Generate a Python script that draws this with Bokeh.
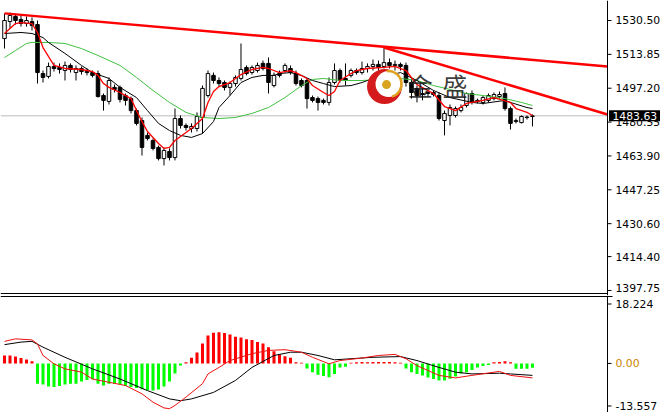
from bokeh.plotting import figure
from bokeh.layouts import column
from bokeh.models import Range1d, Span, ColumnDataSource
from bokeh.core.properties import value
from bokeh.embed import file_html
from bokeh.resources import INLINE

# ---------------- data ----------------
opens = [1521.6, 1530.0, 1532.5, 1531.0, 1529.0, 1530.0, 1528.5, 1504.4, 1503.0, 1507.9,
         1507.4, 1505.9, 1508.4, 1504.9, 1506.9, 1505.4, 1504.9, 1504.4, 1493.6, 1490.7,
         1497.6, 1497.6, 1493.6, 1492.1, 1486.2, 1481.3, 1474.0, 1471.5, 1468.1, 1462.6,
         1466.1, 1463.1, 1482.3, 1478.9, 1477.4, 1477.4, 1482.8, 1493.6, 1503.5, 1501.0,
         1500.0, 1497.6, 1499.5, 1502.0, 1507.4, 1504.9, 1505.9, 1509.4, 1509.4, 1498.5,
         1504.4, 1505.9, 1506.9, 1504.4, 1501.0, 1501.0, 1492.6, 1492.1, 1491.2, 1490.2,
         1500.0, 1505.9, 1502.0, 1503.5, 1505.9, 1504.9, 1506.9, 1507.9, 1508.9, 1507.9,
         1509.8, 1508.4, 1508.9, 1508.4, 1500.0, 1497.1, 1494.6, 1494.6, 1495.1, 1493.6,
         1481.3, 1483.8, 1483.8, 1486.2, 1488.7, 1494.6, 1491.2, 1490.2, 1491.2, 1492.1,
         1493.1, 1494.6, 1487.2, 1480.8, 1480.3, 1482.8, 1483.3]
closes = [1530.5, 1533.0, 1530.5, 1529.0, 1530.5, 1528.0, 1504.9, 1502.5, 1507.9, 1506.9,
          1506.4, 1508.4, 1506.4, 1506.9, 1505.4, 1504.9, 1503.5, 1493.1, 1491.2, 1501.0,
          1496.6, 1491.7, 1491.2, 1486.2, 1479.9, 1468.1, 1472.5, 1467.6, 1462.6, 1466.6,
          1463.1, 1482.3, 1478.9, 1477.9, 1478.4, 1483.3, 1497.1, 1504.4, 1501.0, 1499.5,
          1497.6, 1499.5, 1502.5, 1506.4, 1504.4, 1507.4, 1508.4, 1506.9, 1500.0, 1503.5,
          1503.5, 1508.4, 1504.9, 1499.5, 1498.5, 1492.1, 1491.2, 1490.2, 1490.2, 1500.0,
          1505.9, 1501.0, 1501.0, 1505.9, 1504.9, 1506.9, 1507.9, 1508.9, 1507.4, 1509.8,
          1508.4, 1508.9, 1507.9, 1500.0, 1495.1, 1493.6, 1494.1, 1495.1, 1494.1, 1482.3,
          1484.8, 1487.7, 1487.2, 1487.7, 1494.6, 1490.2, 1490.7, 1492.6, 1493.6, 1494.1,
          1494.1, 1487.2, 1479.9, 1481.3, 1483.3, 1483.0, 1483.63]
highs = [1533.9, 1534.4, 1533.9, 1533.0, 1532.5, 1532.0, 1530.5, 1505.9, 1509.8, 1509.8,
         1509.4, 1510.3, 1509.4, 1508.4, 1507.9, 1506.9, 1505.9, 1505.9, 1494.6, 1502.5,
         1499.0, 1498.5, 1494.6, 1493.1, 1487.2, 1482.8, 1475.4, 1472.5, 1469.0, 1468.1,
         1467.6, 1487.2, 1483.8, 1479.9, 1479.9, 1485.3, 1498.5, 1505.9, 1504.9, 1502.5,
         1501.0, 1500.5, 1503.5, 1519.2, 1508.4, 1508.4, 1509.8, 1510.8, 1512.3, 1504.9,
         1505.9, 1509.4, 1508.4, 1505.9, 1502.0, 1502.0, 1493.6, 1493.1, 1492.1, 1502.5,
         1509.4, 1506.9, 1509.4, 1506.9, 1506.9, 1510.3, 1509.4, 1511.3, 1510.8, 1517.2,
         1511.8, 1510.8, 1509.8, 1509.8, 1502.0, 1498.5, 1497.1, 1496.1, 1496.1, 1495.1,
         1486.2, 1489.2, 1488.2, 1489.2, 1495.1, 1496.1, 1492.1, 1493.6, 1494.6, 1495.1,
         1495.6, 1497.6, 1488.2, 1482.3, 1483.8, 1483.8, 1484.3]
lows = [1516.7, 1526.6, 1528.5, 1527.5, 1527.5, 1525.6, 1499.5, 1500.0, 1502.0, 1505.4,
        1504.4, 1501.0, 1504.9, 1501.0, 1503.9, 1503.5, 1502.5, 1492.6, 1486.2, 1489.2,
        1495.1, 1490.2, 1488.7, 1484.8, 1478.9, 1464.1, 1471.5, 1466.6, 1461.7, 1459.2,
        1461.7, 1461.7, 1477.4, 1476.4, 1475.4, 1475.9, 1474.9, 1492.6, 1499.5, 1498.0,
        1496.1, 1493.6, 1498.0, 1501.0, 1503.5, 1503.9, 1504.9, 1505.9, 1494.6, 1497.6,
        1502.5, 1504.9, 1503.9, 1498.5, 1497.6, 1487.2, 1490.2, 1486.2, 1489.2, 1488.7,
        1499.0, 1500.0, 1498.5, 1502.5, 1503.9, 1503.9, 1504.9, 1505.9, 1505.9, 1506.9,
        1506.9, 1505.9, 1505.9, 1498.0, 1492.1, 1490.2, 1491.2, 1493.1, 1493.1, 1481.3,
        1474.0, 1478.9, 1482.8, 1485.3, 1487.7, 1489.2, 1489.7, 1489.2, 1490.2, 1491.2,
        1492.1, 1486.2, 1476.9, 1479.9, 1479.9, 1481.8, 1478.4]

ma_fast_idx = [0, 2, 3, 5, 6, 7, 9, 11, 14, 16, 17, 18, 19, 21, 23, 24, 25, 26, 28, 29,
               30, 31, 33, 34, 36, 37, 38, 39, 41, 43, 45, 47, 48, 50, 52, 53, 55, 56, 58, 59,
               60, 61, 63, 64, 66, 69, 71, 73, 75, 78, 80, 82, 84, 87, 89, 92, 93, 95, 96]
ma_fast = [1524.1, 1529.0, 1529.5, 1529.0, 1524.6, 1517.2, 1508.4, 1506.9, 1506.4, 1505.4,
           1503.5, 1499.5, 1497.6, 1495.1, 1492.1, 1486.2, 1480.8, 1475.9, 1470.0, 1467.6,
           1468.1, 1471.5, 1475.4, 1477.4, 1482.3, 1490.2, 1495.6, 1498.0, 1500.0, 1503.9,
           1506.4, 1507.4, 1506.9, 1504.9, 1505.9, 1504.9, 1502.0, 1498.5, 1495.1, 1493.6,
           1495.6, 1501.0, 1504.4, 1505.9, 1506.9, 1507.4, 1507.9, 1505.9, 1499.0, 1494.6,
           1488.2, 1486.2, 1489.7, 1491.2, 1492.6, 1490.2, 1487.2, 1485.3, 1483.8]
ma_mid_idx = [0, 3, 5, 7, 8, 11, 14, 16, 19, 21, 24, 26, 28, 30, 32, 34, 36, 38, 39, 41,
              43, 45, 47, 49, 50, 52, 54, 56, 58, 60, 63, 65, 66, 70, 72, 75, 78, 81, 85, 87,
              91, 92, 95, 96]
ma_mid = [1524.1, 1524.6, 1524.1, 1522.1, 1519.7, 1514.3, 1508.4, 1504.9, 1502.0, 1497.6,
          1492.6, 1486.2, 1479.9, 1476.4, 1474.0, 1473.0, 1474.9, 1480.8, 1487.7, 1493.6,
          1500.0, 1502.5, 1503.5, 1503.5, 1504.4, 1504.9, 1503.5, 1501.0, 1499.5, 1498.0,
          1498.5, 1500.0, 1501.0, 1503.5, 1504.9, 1501.0, 1496.1, 1492.6, 1490.2, 1489.7,
          1491.2, 1490.2, 1487.7, 1487.2]
ma_slow_idx = [0, 2, 4, 5, 8, 11, 14, 17, 21, 24, 27, 30, 33, 36, 39, 42, 45, 48, 51, 54,
               56, 58, 61, 65, 72, 75, 78, 81, 84, 87, 91, 94, 96]
ma_slow = [1512.3, 1515.7, 1519.2, 1519.7, 1519.7, 1519.2, 1516.7, 1513.3, 1508.4, 1502.5,
           1496.1, 1490.2, 1485.3, 1482.8, 1482.3, 1482.8, 1484.8, 1487.7, 1492.6, 1498.5,
           1501.5, 1502.0, 1501.0, 1501.0, 1502.0, 1501.0, 1498.5, 1496.6, 1494.6, 1493.6,
           1492.1, 1490.2, 1488.7]

trend1_x = [0.0, 109.64]
trend1_y = [1534.0, 1507.9]
trend2_x = [69.0, 109.64]
trend2_y = [1517.2, 1484.3]

last_price = 1483.63
last_label = "1483.63"
price_ticks = [1397.75, 1414.40, 1430.60, 1447.25, 1463.90, 1480.55, 1497.20, 1513.85, 1530.50]
price_tick_labels = ["1397.75", "1414.40", "1430.60", "1447.25", "1463.90",
                     "1480.55", "1497.20", "1513.85", "1530.50"]

hist = [2.2, 2.2, 1.9, 1.5, 1.1, 0.6, -5.6, -5.8, -6.4, -6.5,
        -6.2, -5.8, -5.6, -5.6, -5.0, -4.6, -4.4, -5.6, -6.1, -5.6,
        -5.6, -5.8, -6.2, -6.5, -6.8, -7.1, -7.4, -7.5, -7.2, -6.4,
        -5.0, -2.8, -0.6, 0.3, 1.6, 3.0, 5.5, 7.7, 8.5, 8.6,
        8.4, 8.0, 7.4, 7.2, 6.7, 6.5, 5.9, 5.5, 4.5, 3.4,
        2.5, 2.0, 1.6, 0.3, 0.2, -1.4, -2.4, -3.1, -3.5, -3.8,
        -2.9, -1.1, -0.9, 0.2, 0.3, 0.4, 0.3, 0.4, 0.4, 0.4,
        0.4, 0.3, 0.2, -1.4, -2.4, -2.9, -3.3, -3.9, -4.3, -4.7,
        -4.7, -4.2, -3.6, -2.8, -2.4, -1.8, -1.1, -0.7, -0.4, 0.3,
        0.4, 0.6, 0.3, -1.5, -1.5, -1.5, -1.2]
macd_idx = [0, 3, 5, 7, 11, 16, 21, 26, 30, 32, 34, 38, 42, 45, 49, 52, 54, 57, 60, 63,
            67, 72, 75, 79, 82, 85, 90, 92, 96]
macd_line = [5.2, 5.9, 6.1, 4.5, 1.7, -1.5, -4.3, -7.5, -9.8, -10.3, -9.8, -8.0, -4.7, -1.1,
             2.2, 3.1, 3.1, 2.2, 1.0, 1.3, 1.7, 1.9, 0.8, -1.1, -2.4, -2.9, -2.7, -2.9, -3.3]
signal_idx = [0, 2, 5, 6, 7, 9, 11, 14, 16, 19, 22, 25, 27, 29, 30, 31, 33, 36, 37, 39,
              41, 45, 48, 51, 54, 56, 59, 61, 65, 68, 71, 73, 75, 79, 82, 85, 90, 92, 96]
signal_line = [6.1, 6.8, 6.5, 5.4, 2.2, -0.1, -1.5, -2.4, -4.3, -5.2,
               -6.1, -8.4, -10.7, -12.3, -12.5, -11.6, -9.3, -5.6, -2.9, -1.1,
               0.8, 2.7, 3.6, 3.8, 3.1, 1.7, -0.1, 0.8, 1.5, 2.2,
               2.5, 1.3, -0.6, -3.3, -4.0, -3.3, -2.2, -3.3, -4.0]
macd_max, macd_min = 18.224, -13.557
macd_tick_labels = ["18.224", "0.00", "-13.557"]

# ---------------- layout ----------------
W = 660
H1, H2 = 295, 117
AX = 607                       # pixel column of the price axis
x0, x_axis = -0.727, 109.64    # data x at left edge and at the axis
ppu_x = AX / (x_axis - x0)
x_end = x0 + W / ppu_x
p_top = 1540.33                # price at top edge
ppu_y = 1 / 0.4917             # pixels per price unit
y_lo = p_top - H1 / ppu_y
sep1 = p_top - 293 / ppu_y
m_ppu = (H2 - 2) / (macd_max - macd_min)
m_hi = macd_max + 2 / m_ppu
sep2 = m_hi - 1 / m_ppu
FONT = value("DejaVu Sans")
FS = "10.8px"


def base_fig(h, yr):
    p = figure(width=W, height=h, x_range=Range1d(x0, x_end), y_range=yr,
               output_backend="svg", toolbar_location=None, tools="",
               x_axis_location=None, y_axis_location=None,
               min_border_left=0, min_border_right=0, min_border_top=0, min_border_bottom=0)
    p.grid.visible = False
    p.outline_line_color = None
    p.background_fill_color = "white"
    p.border_fill_color = "white"
    p.add_layout(Span(location=x_axis, dimension="height", line_color="black", line_width=1))
    return p


def price_axis(p, ticks, labels, colors, label_pos=None):
    if label_pos is None:
        label_pos = ticks
    p.segment(x0=[x_axis] * len(ticks), y0=ticks, x1=[x_axis + 4 / ppu_x] * len(ticks), y1=ticks,
              line_color="black", line_width=1)
    p.text(x=[x_axis + 8 / ppu_x] * len(ticks), y=label_pos, text=labels, text_color=colors,
           text_font=FONT, text_font_size=FS, text_align="left", text_baseline="middle")


# ---------------- main panel ----------------
p1 = base_fig(H1, Range1d(y_lo, p_top))
p1.segment(x0=[x0], y0=[last_price], x1=[x_axis], y1=[last_price], line_color="#bdbdbd", line_width=1)
p1.segment(x0=[x0], y0=[sep1], x1=[x_axis], y1=[sep1], line_color="black", line_width=1)

idx = list(range(len(opens)))
src = ColumnDataSource(dict(
    x=idx, o=opens, c=closes, h=highs, l=lows,
    top=[max(a, b) for a, b in zip(opens, closes)],
    bot=[min(a, b) for a, b in zip(opens, closes)],
    fill=["white" if c >= o else "black" for o, c in zip(opens, closes)],
))
p1.segment(x0="x", y0="h", x1="x", y1="l", source=src, line_color="black", line_width=1)
p1.vbar(x="x", width=0.64, top="top", bottom="bot", source=src,
        fill_color="fill", line_color="black", line_width=1)

p1.line(ma_slow_idx, ma_slow, line_color="#40c040", line_width=1)
p1.line(ma_mid_idx, ma_mid, line_color="black", line_width=1)
p1.line(ma_fast_idx, ma_fast, line_color="#ff0000", line_width=1.3)

p1.line(trend1_x, trend1_y, line_color="#ff0000", line_width=2.5)
p1.line(trend2_x, trend2_y, line_color="#ff0000", line_width=2.5)

# logo
lx, ly = 69.1, 1498.0
p1.scatter([lx], [ly], size=35, marker="circle", fill_color="#d41a1a", line_color=None)
p1.scatter([lx + 4 / ppu_x], [ly + 2.5 / ppu_y], size=26, marker="circle", fill_color="white", line_color=None)
p1.arc([lx + 4 / ppu_x], [ly + 2.5 / ppu_y], radius=13, radius_units="screen",
       start_angle=-1.3, end_angle=1.7, line_color="#e0a020", line_width=2.5)
p1.scatter([lx + 2 / ppu_x], [ly + 2 / ppu_y], size=9, marker="circle", fill_color="#d9a520", line_color=None)
p1.text(x=[75.6, 81.9], y=[1499.0, 1499.0], text=["金", "盛"],
        text_font=value("Noto Sans CJK SC"), text_font_size="25px",
        text_color="#1a1a1a", text_alpha=0.85, text_align="center", text_baseline="middle")

# price scale (lowest label lifted slightly so it stays inside the panel)
price_label_pos = [price_ticks[0] + 2.5 / ppu_y] + price_ticks[1:]
price_axis(p1, price_ticks, price_tick_labels, ["black"] * len(price_ticks), price_label_pos)
# current price box
p1.quad(left=[x_axis + 1.5 / ppu_x], right=[x_end], top=[last_price + 5.5 / ppu_y],
        bottom=[last_price - 5.5 / ppu_y], fill_color="black", line_color=None)
p1.text(x=[x_axis + 5 / ppu_x], y=[last_price], text=[last_label], text_color="white",
        text_font=FONT, text_font_size=FS, text_align="left", text_baseline="middle")

# ---------------- MACD panel ----------------
p2 = base_fig(H2, Range1d(macd_min, m_hi))
p2.segment(x0=[x0], y0=[sep2], x1=[x_axis + 5 / ppu_x], y1=[sep2], line_color="black", line_width=1)
hsrc = ColumnDataSource(dict(x=idx, top=hist, color=["#ff0000" if v >= 0 else "#00ff00" for v in hist]))
p2.vbar(x="x", top="top", bottom=0, width=0.55, source=hsrc, fill_color="color", line_color=None)
p2.line(macd_idx, macd_line, line_color="black", line_width=1)
p2.line(signal_idx, signal_line, line_color="#ee1111", line_width=1)
macd_label_pos = [m_hi - 8.5 / m_ppu, 0.0, macd_min + 6.5 / m_ppu]
price_axis(p2, macd_label_pos, macd_tick_labels, ["black", "#c88400", "black"])

layout = column(p1, p2, spacing=0)
open("out.html", "w").write(file_html(layout, INLINE))
